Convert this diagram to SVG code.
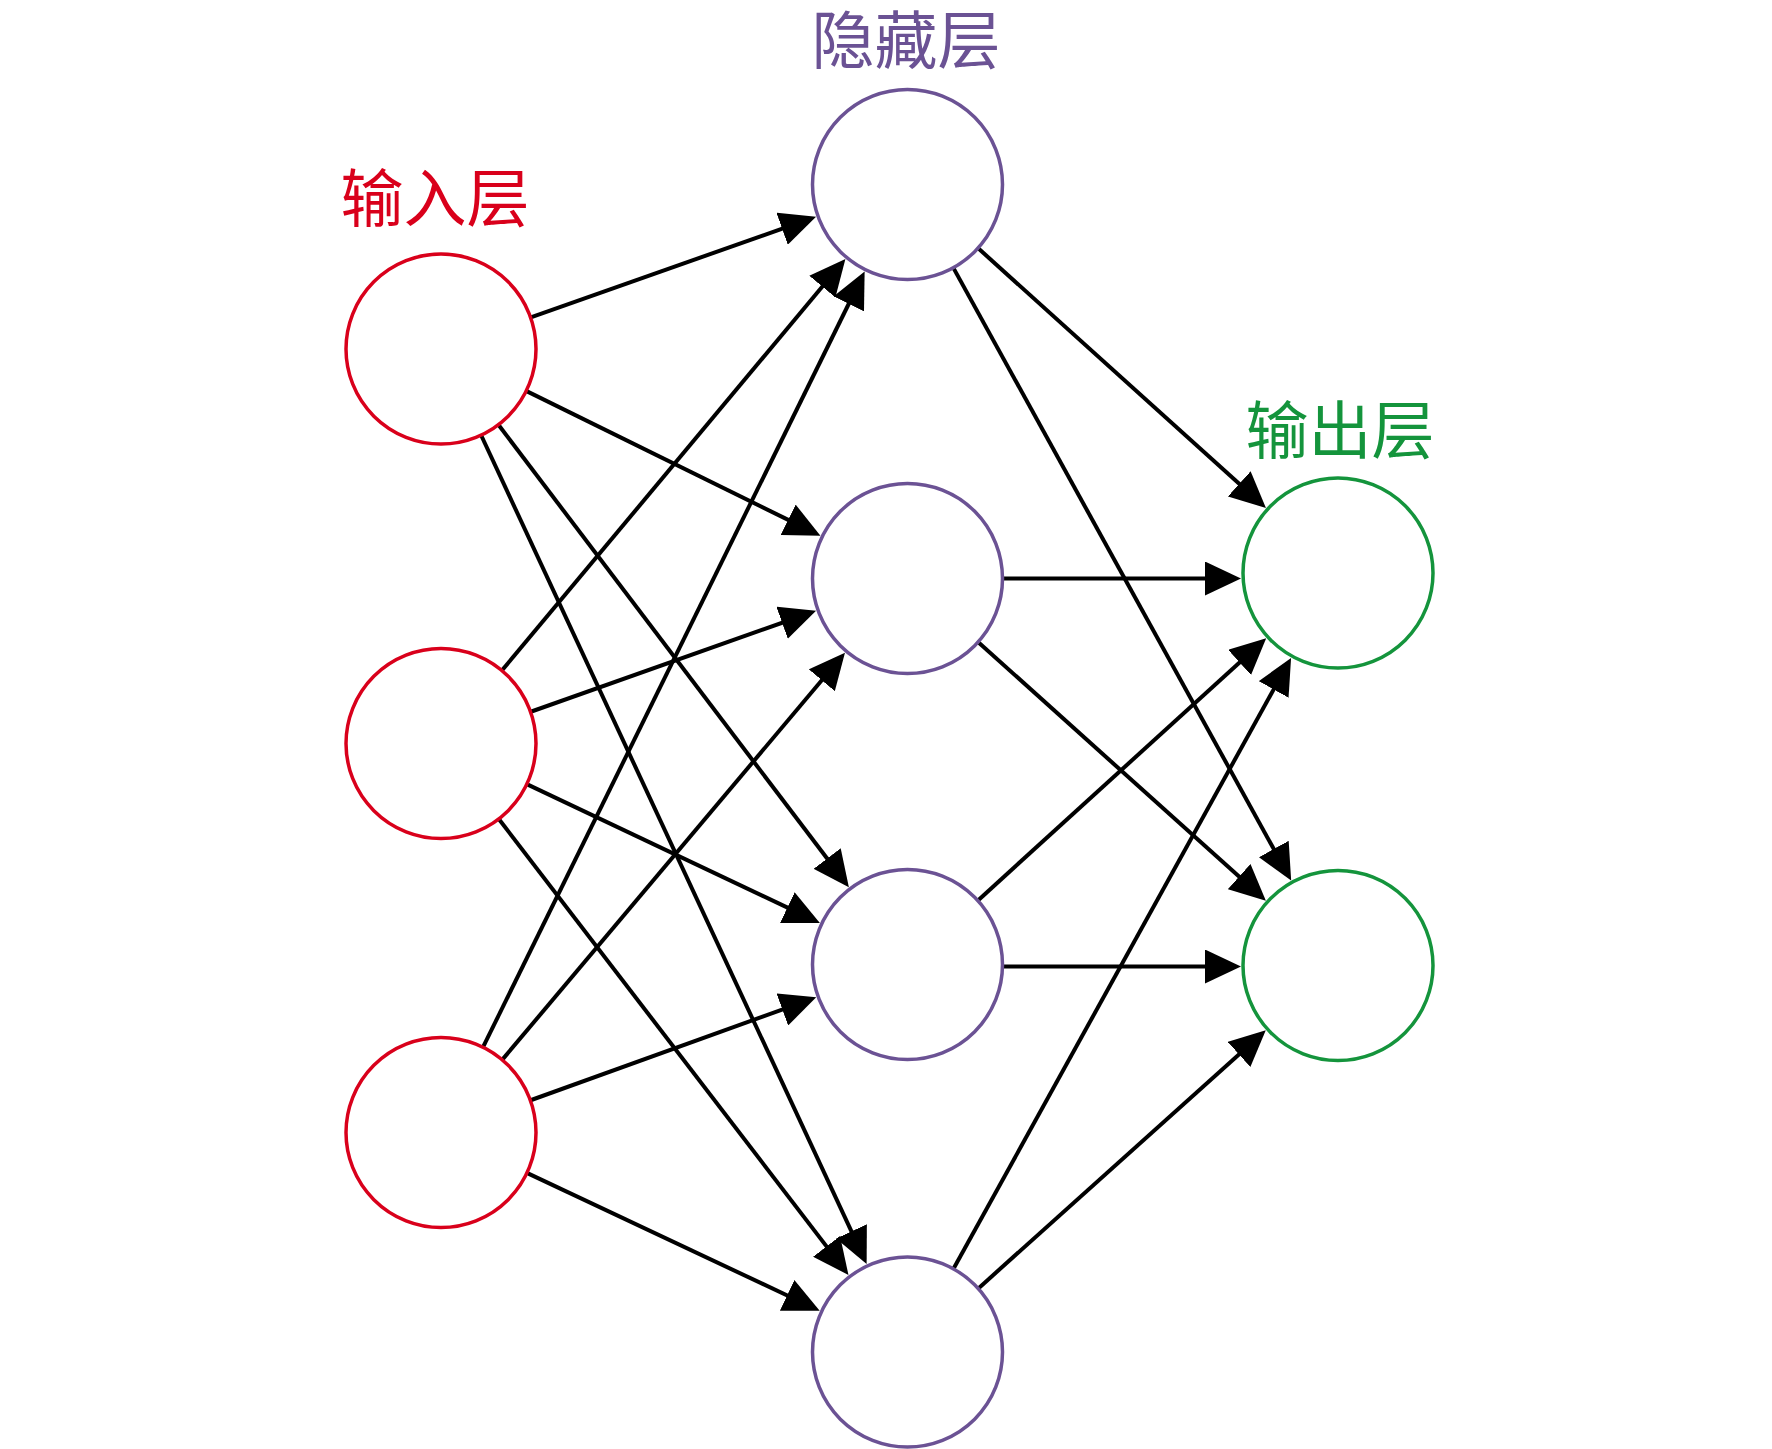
<svg xmlns="http://www.w3.org/2000/svg" width="1772" height="1449" viewBox="0 0 1772 1449">
<style>
.in{fill:#fff;stroke:#D9001B;stroke-width:3.5}
.hid{fill:#fff;stroke:#6B5294;stroke-width:3.5}
.out{fill:#fff;stroke:#14943C;stroke-width:3.5}
.lbl{font-family:"Noto Sans CJK SC","Noto Sans",sans-serif;font-size:63px;text-anchor:middle}
#connectors line{stroke:#000;stroke-width:4;marker-end:url(#arr)}
</style>
<defs>
<marker id="arr" viewBox="0 0 36 34" refX="16" refY="17" markerWidth="36" markerHeight="34" markerUnits="userSpaceOnUse" orient="auto">
<path d="M0,0 L36,17 L0,34 z" fill="#000"/>
</marker>
</defs>
<rect width="1772" height="1449" fill="#fff"/>
<g id="labels">
<text class="lbl" x="435" y="221" fill="#D9001B">输入层</text>
<text class="lbl" x="906" y="63" fill="#6B5294">隐藏层</text>
<text class="lbl" x="1340" y="453" fill="#14943C">输出层</text>
</g>
<g id="connectors">
<line x1="531.5" y1="317.1" x2="797.2" y2="223.4"/>
<line x1="527.1" y1="391.4" x2="802.5" y2="526.9"/>
<line x1="499.0" y1="425.5" x2="836.8" y2="871.3"/>
<line x1="481.5" y1="436.0" x2="858.2" y2="1245.9"/>
<line x1="502.5" y1="669.8" x2="832.6" y2="274.3"/>
<line x1="531.5" y1="711.5" x2="797.2" y2="617.5"/>
<line x1="527.8" y1="784.6" x2="801.8" y2="914.4"/>
<line x1="499.4" y1="819.7" x2="836.3" y2="1259.1"/>
<line x1="483.4" y1="1046.4" x2="855.8" y2="289.5"/>
<line x1="502.8" y1="1059.1" x2="832.1" y2="668.0"/>
<line x1="531.3" y1="1100.0" x2="797.4" y2="1004.1"/>
<line x1="527.9" y1="1173.4" x2="801.6" y2="1302.2"/>
<line x1="978.8" y1="248.8" x2="1251.1" y2="494.6"/>
<line x1="953.8" y1="268.6" x2="1281.5" y2="863.0"/>
<line x1="1004" y1="578.5" x2="1221" y2="578.5"/>
<line x1="978.9" y1="642.7" x2="1251.0" y2="887.3"/>
<line x1="978.5" y1="899.9" x2="1251.4" y2="651.7"/>
<line x1="1004" y1="966.5" x2="1221" y2="966.5"/>
<line x1="953.9" y1="1268.0" x2="1281.4" y2="675.4"/>
<line x1="978.9" y1="1287.9" x2="1250.9" y2="1043.7"/>
</g>
<g id="input1"><circle class="in" cx="441" cy="349" r="95"/></g>
<g id="input2"><circle class="in" cx="441" cy="743.5" r="95"/></g>
<g id="input3"><circle class="in" cx="441" cy="1132.5" r="95"/></g>
<g id="hidden1"><circle class="hid" cx="907.5" cy="184.5" r="95"/></g>
<g id="hidden2"><circle class="hid" cx="907.5" cy="578.5" r="95"/></g>
<g id="hidden3"><circle class="hid" cx="907.5" cy="964.5" r="95"/></g>
<g id="hidden4"><circle class="hid" cx="907.5" cy="1352" r="95"/></g>
<g id="output1"><circle class="out" cx="1338" cy="573" r="95"/></g>
<g id="output2"><circle class="out" cx="1338" cy="965.5" r="95"/></g>
</svg>
